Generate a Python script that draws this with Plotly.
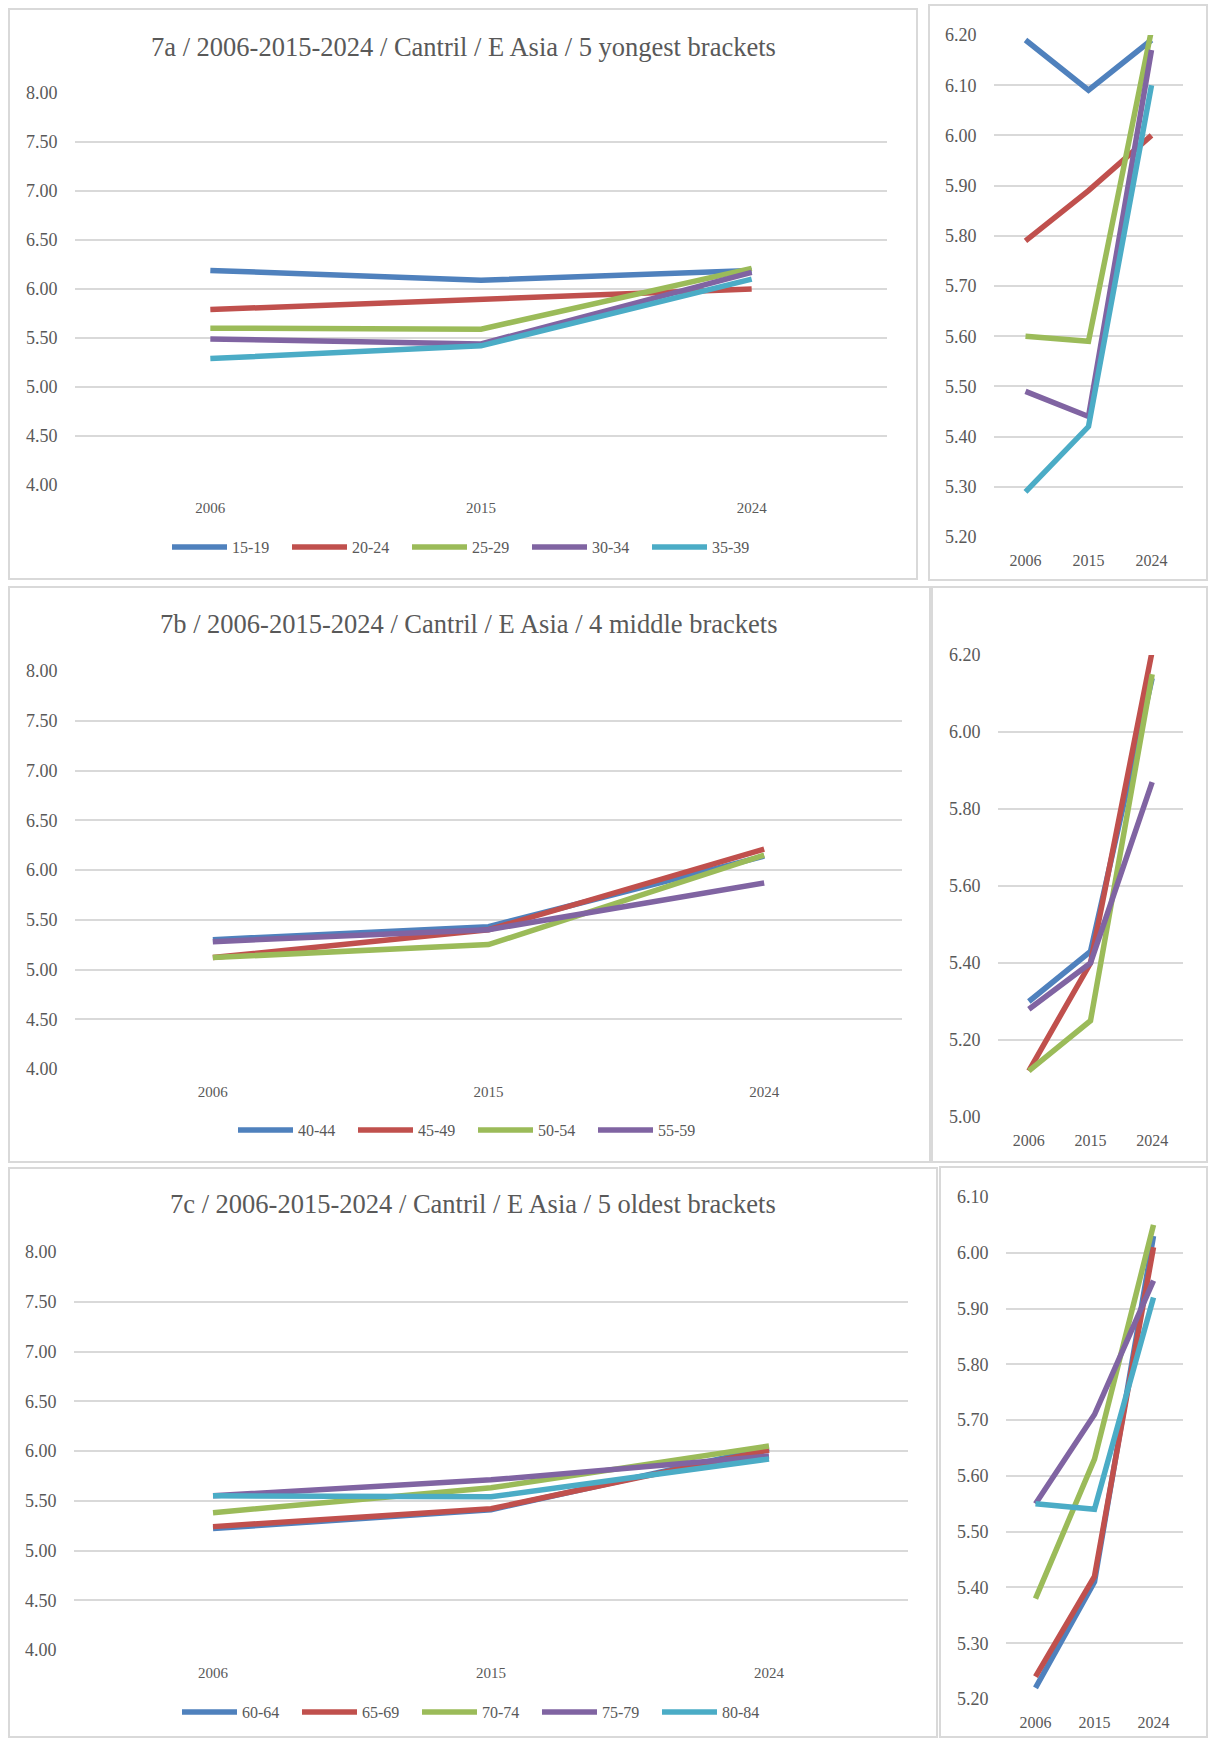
import plotly.graph_objects as go

W, H = 1208, 1738

years = ["2006", "2015", "2024"]

young_labels = ["15-19", "20-24", "25-29", "30-34", "35-39"]
young_values = [
    [6.19, 6.09, 6.19],
    [5.79, 5.89, 6.00],
    [5.60, 5.59, 6.21],
    [5.49, 5.44, 6.17],
    [5.29, 5.42, 6.10],
]

middle_labels = ["40-44", "45-49", "50-54", "55-59"]
middle_values = [
    [5.30, 5.43, 6.14],
    [5.12, 5.40, 6.21],
    [5.12, 5.25, 6.15],
    [5.28, 5.40, 5.87],
]

old_labels = ["60-64", "65-69", "70-74", "75-79", "80-84"]
old_values = [
    [5.22, 5.41, 6.03],
    [5.24, 5.42, 6.01],
    [5.38, 5.63, 6.05],
    [5.55, 5.71, 5.95],
    [5.55, 5.54, 5.92],
]

titles = [
    "7a / 2006-2015-2024 / Cantril / E Asia / 5 yongest brackets",
    "7b / 2006-2015-2024 / Cantril / E Asia / 4 middle brackets",
    "7c / 2006-2015-2024 / Cantril / E Asia / 5 oldest brackets",
]

colors = ["#4F81BD", "#C0504D", "#9BBB59", "#8064A2", "#4BACC6"]
TEXT = "#595959"
GRID = "#D9D9D9"
FONT = "Liberation Serif, Times New Roman, serif"


def fx(v):
    return v / W


def fy(v):
    return 1 - v / H


fig = go.Figure()
shapes = []
annotations = []
layout = {}


def add_panel(n, labels, values, title, main_box, small_box, small_axis,
              title_pos, legend_pos, main_border, small_border):
    xa_m, xa_s = 2 * n - 1, 2 * n
    leg = "legend" if n == 1 else "legend%d" % n
    for i, (lab, vals) in enumerate(zip(labels, values)):
        fig.add_trace(go.Scatter(
            x=years, y=vals, name=lab, mode="lines",
            line=dict(color=colors[i], width=5.5),
            xaxis="x%d" % xa_m if xa_m > 1 else "x",
            yaxis="y%d" % xa_m if xa_m > 1 else "y",
            legend=leg,
        ))
        fig.add_trace(go.Scatter(
            x=years, y=vals, name=lab, mode="lines", showlegend=False,
            line=dict(color=colors[i], width=5.5),
            xaxis="x%d" % xa_s, yaxis="y%d" % xa_s,
        ))

    def axes(idx, box, yr, dtick, xfont, yfont):
        x0, x1, y0, y1 = box
        kx = "xaxis" if idx == 1 else "xaxis%d" % idx
        ky = "yaxis" if idx == 1 else "yaxis%d" % idx
        layout[kx] = dict(
            domain=[fx(x0), fx(x1)], anchor="y" if idx == 1 else "y%d" % idx,
            type="category", range=[-0.5, 2.5], showgrid=False,
            showline=False, zeroline=False,
            ticks="outside", ticklen=9, tickcolor="rgba(0,0,0,0)",
            tickfont=dict(family=FONT, size=xfont, color=TEXT),
        )
        layout[ky] = dict(
            domain=[fy(y1), fy(y0)], anchor="x" if idx == 1 else "x%d" % idx,
            range=list(yr), dtick=dtick, tick0=yr[0], tickformat=".2f",
            showgrid=True, gridcolor=GRID, gridwidth=1.5,
            showline=False, zeroline=False,
            ticks="outside", ticklen=13, tickcolor="rgba(0,0,0,0)",
            tickfont=dict(family=FONT, size=yfont, color=TEXT),
        )

    axes(xa_m, main_box, (4, 8), 0.5, 15, 18)
    axes(xa_s, small_box, small_axis[:2], small_axis[2], 16, 18)

    annotations.append(dict(
        text=title, x=fx(title_pos[0]), y=fy(title_pos[1]),
        xref="paper", yref="paper", xanchor="center", yanchor="middle",
        showarrow=False, font=dict(family=FONT, size=26.5, color=TEXT),
    ))

    layout[leg] = dict(
        orientation="h", x=fx(legend_pos[0]), y=fy(legend_pos[1]),
        xanchor="center", yanchor="middle",
        itemwidth=55, entrywidth=50, entrywidthmode="pixels",
        font=dict(family=FONT, size=16, color=TEXT),
        bgcolor="rgba(0,0,0,0)",
    )

    for b in (main_border, small_border):
        shapes.append(dict(
            type="rect", xref="paper", yref="paper",
            x0=fx(b[0]), y0=fy(b[1]), x1=fx(b[2]), y1=fy(b[3]),
            line=dict(color=GRID, width=2), fillcolor="rgba(0,0,0,0)",
        ))


add_panel(1, young_labels, young_values, titles[0],
          (75, 887, 93, 485), (994, 1183, 35, 537), (5.2, 6.2, 0.1),
          (463, 47), (467, 547), (9, 9, 917, 579), (929, 5, 1207, 580))
add_panel(2, middle_labels, middle_values, titles[1],
          (75, 902, 671, 1069), (998, 1183, 655, 1117), (5.0, 6.2, 0.2),
          (469, 624), (473, 1130), (9, 587, 930, 1162), (932, 587, 1207, 1162))
add_panel(3, old_labels, old_values, titles[2],
          (74, 908, 1252, 1650), (1006, 1183, 1197, 1699), (5.2, 6.1, 0.1),
          (473, 1204), (477, 1712), (9, 1168, 937, 1737), (940, 1167, 1207, 1737))

fig.update_layout(
    width=W, height=H,
    # no auto-expansion: legends near the edges must not shrink the page
    margin=dict(l=0, r=0, t=0, b=0, autoexpand=False),
    paper_bgcolor="white", plot_bgcolor="white",
    shapes=shapes, annotations=annotations,
    **layout,
)

# drop the page margin so the figure sits at the window corner
pin = ("document.body.style.margin='0';"
       "var d=document.getElementById('{plot_id}');"
       "d.style.position='fixed';d.style.top='0';d.style.left='0';")
fig.write_html("out.html", config={"displayModeBar": False}, post_script=pin)
